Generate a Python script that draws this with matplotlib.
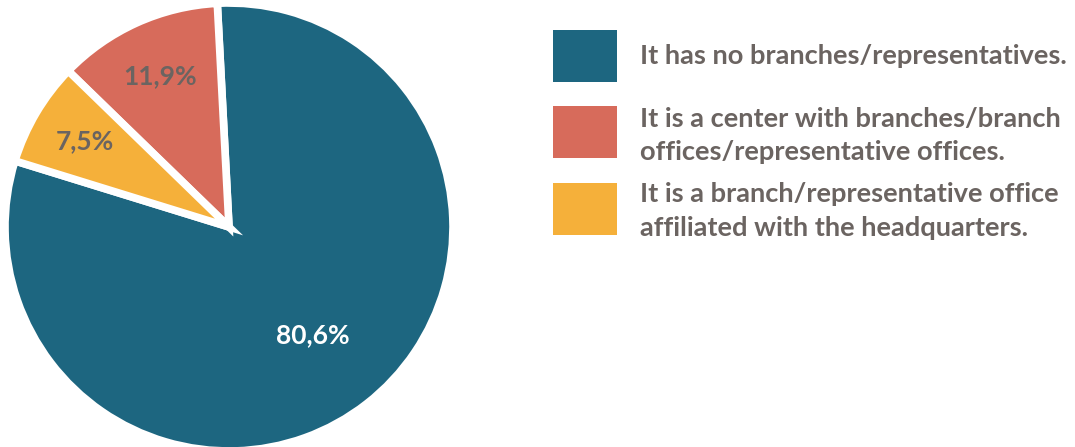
import numpy as np
import matplotlib
matplotlib.use("Agg")
import matplotlib.pyplot as plt
from matplotlib.patches import Rectangle

# Share of organisations by branch structure
labels = [
    "It has no branches/representatives.",
    "It is a center with branches/branch\noffices/representative offices.",
    "It is a branch/representative office\naffiliated with the headquarters.",
]
shares = [80.6, 11.9, 7.5]
value_texts = ["80,6%", "11,9%", "7,5%"]
colors = ["#1d6680", "#d76b5b", "#f5b03a"]
value_colors = ["white", "#6b6461", "#6b6461"]

text_gray = "#6b6461"
font = "Lato"

W, H = 1075, 447
fig = plt.figure(figsize=(W / 100, H / 100), dpi=100)

# Pie axes: centre (229, 227) px
cx, cy, r = 229, 227, 224
ax = fig.add_axes([(cx - r) / W, (H - cy - r) / H, 2 * r / W, 2 * r / H])

start = 93 - 360 * shares[0] / 100
wedges, _ = ax.pie(
    shares, colors=colors, startangle=start, counterclock=True, radius=1.0,
    wedgeprops=dict(edgecolor="white", linewidth=5.5),
)
ax.set_xlim(-1, 1)
ax.set_ylim(-1, 1)
ax.set_aspect("equal")
ax.axis("off")

dists = [0.61, 0.74, 0.75]
for w, txt, col, d in zip(wedges, value_texts, value_colors, dists):
    ang = np.deg2rad((w.theta1 + w.theta2) / 2)
    ax.text(d * np.cos(ang), d * np.sin(ang), txt, ha="center", va="center",
            color=col, fontsize=19, fontweight="bold", family=font)

# Legend entries drawn on the figure
box_y = [30, 106, 183]
text_y = [56, 135, 211]
for c, lab, by, ty in zip(colors, labels, box_y, text_y):
    fig.patches.append(Rectangle((553 / W, 1 - (by + 52) / H), 64 / W, 52 / H,
                                 transform=fig.transFigure, facecolor=c,
                                 edgecolor="none"))
    fig.text(640 / W, 1 - ty / H, lab, ha="left", va="center", color=text_gray,
             fontsize=19.6, fontweight="bold", family=font, linespacing=1.45)

fig.savefig("out.png", dpi=100)
